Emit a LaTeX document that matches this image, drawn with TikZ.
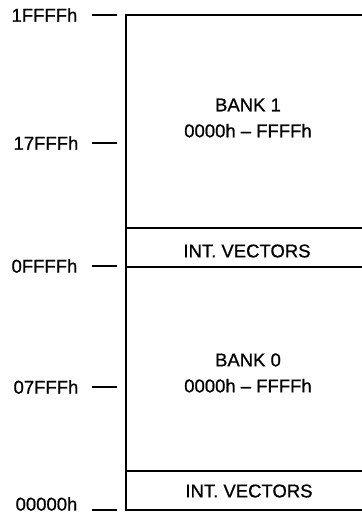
\documentclass[tikz,border=0pt]{standalone}
\usepackage{fontspec}
\setmainfont{Liberation Sans}[FakeBold=0.8]
\usetikzlibrary{positioning}

\begin{document}
\begin{tikzpicture}[x=1pt,y=-1pt,line width=1.3pt,
  addr/.style={anchor=east,inner sep=0pt,font=\fontsize{18.5}{20}\selectfont},
  area/.style={align=center,inner sep=0pt,font=\fontsize{18.5}{26}\selectfont}]
\useasboundingbox (0,0) rectangle (362,515);
% memory column
\coordinate (top) at (126,15);
\coordinate (bot) at (126,510);
\draw (362,15) -- (top) -- (bot) -- (362,510);
\draw (126,228) -- (362,228);
\draw (126,267) -- (362,267);
\draw (126,471) -- (362,471);

\node[area] (bank1) at (248,118) {BANK 1\\0000h -- FFFFh};
\node[area] (vec1) at (247,251) {INT. VECTORS};
\node[area] (bank0) at (248,373) {BANK 0\\0000h -- FFFFh};
\node[area] (vec0) at (249,491) {INT. VECTORS};

% addresses
\node[addr] (a1) at (78,15) {1FFFFh};
\node[addr] (a2) at (79,143) {17FFFh};
\node[addr] (a3) at (78,266) {0FFFFh};
\node[addr] (a4) at (79,387) {07FFFh};
\node[addr] (a5) at (78,504) {00000h};

\draw ([xshift=14pt]a1.east) -- ([xshift=39pt]a1.east);
\draw ([xshift=13pt]a2.east) -- ([xshift=38pt]a2.east);
\draw ([xshift=14pt]a3.east) -- ([xshift=39pt]a3.east);
\draw ([xshift=13pt]a4.east) -- ([xshift=38pt]a4.east);
\draw ([xshift=14pt,yshift=-6pt]a5.east) -- ([xshift=39pt,yshift=-6pt]a5.east);
\end{tikzpicture}
\end{document}
